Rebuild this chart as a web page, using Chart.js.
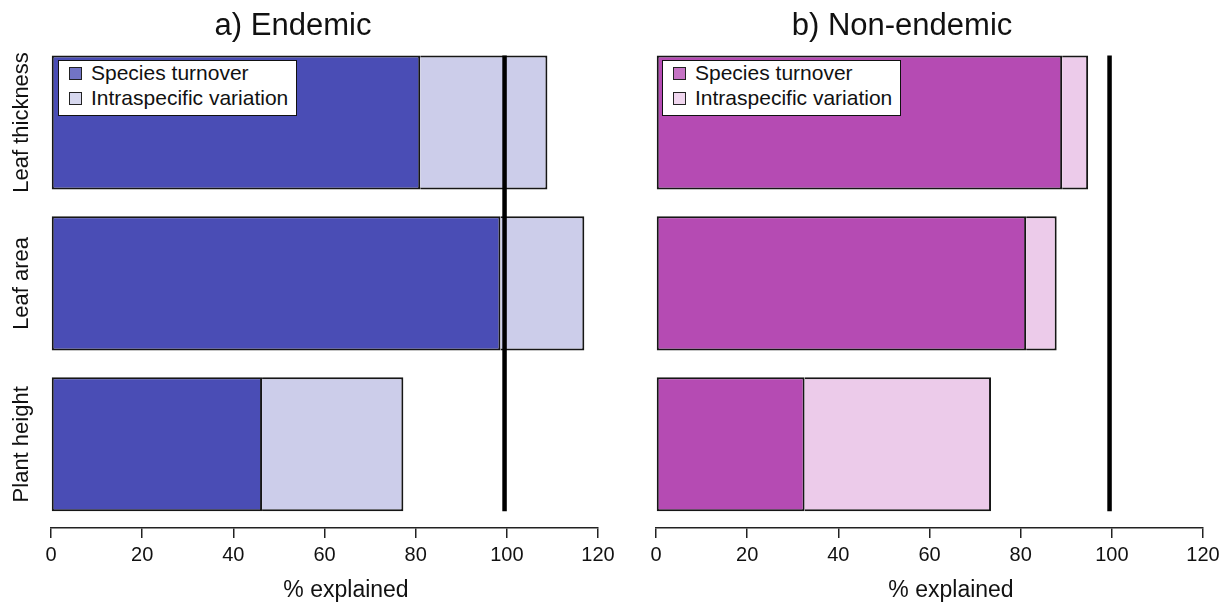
<!DOCTYPE html>
<html>
<head>
<meta charset="utf-8">
<script src="https://cdn.jsdelivr.net/npm/chart.js@4.4.1/dist/chart.umd.min.js"></script>
<style>
  html, body { margin: 0; padding: 0; background: #fff; overflow: hidden; }
  #frame { position: relative; width: 1230px; height: 608px; font-family: "Liberation Sans", Arial, sans-serif; color: #111; }
  .panel { position: absolute; top: 0; width: 615px; height: 608px; }
  .title { position: absolute; top: 8px; font-size: 31px; line-height: 34px; white-space: nowrap; transform: translateX(-50%); }
  .xlab { position: absolute; top: 576px; font-size: 23px; line-height: 26px; white-space: nowrap; transform: translateX(-50%); }
  .legend { position: absolute; top: 60px; background: #fff; border: 1.5px solid #111; padding: 0 8px 5px 0; font-size: 21px; line-height: 24.5px; white-space: nowrap; }
  .legend .row { padding-left: 10px; }
  .legend .sw { display: inline-block; width: 11px; height: 11px; border: 1.2px solid #222; margin-right: 9px; vertical-align: baseline; }
</style>
</head>
<body>
<div id="frame">
  <div class="panel" style="left:0"><canvas id="endemic"></canvas></div>
  <div class="panel" style="left:615px"><canvas id="nonendemic"></canvas></div>
  <div class="title" style="left:293px">a) Endemic</div>
  <div class="title" style="left:902px">b) Non-endemic</div>
  <div class="xlab" style="left:346px">% explained</div>
  <div class="xlab" style="left:951px">% explained</div>
  <div class="legend" id="leg-endemic" style="left:58px"></div>
  <div class="legend" id="leg-nonendemic" style="left:662px"></div>
</div>
<script>
// traits, top to bottom
const traits = ["Leaf thickness", "Leaf area", "Plant height"];
const seriesNames = ["Species turnover", "Intraspecific variation"];

// % of trait variation explained
const endemicTurnover = [81.0, 98.6, 46.3];
const endemicIntra = [27.9, 18.4, 31.0];
const nonEndemicTurnover = [89.1, 81.2, 32.6];
const nonEndemicIntra = [5.7, 6.7, 40.9];

// reference line (total variation)
const refLine = 99.5;
const xTicks = [0, 20, 40, 60, 80, 100, 120];

const blues = ["#4a4db5", "#cccdea"];
const pinks = ["#b54bb3", "#eccbea"];

Chart.defaults.font.family = '"Liberation Sans", Arial, sans-serif';
Chart.defaults.color = "#111";

// bar height as a share of each row (space = 0.2)
const BAR_SHARE = 1 / 1.2;

// rotated trait names at the left of the first panel
const traitNames = {
	id: "traitNames",
	afterDraw(chart) {
		const ctx = chart.ctx;
		const y = chart.scales.y;
		ctx.save();
		ctx.font = '22px "Liberation Sans", Arial, sans-serif';
		ctx.fillStyle = "#111";
		ctx.textAlign = "center";
		ctx.textBaseline = "alphabetic";
		traits.forEach((name, i) => {
			ctx.save();
			ctx.translate(28, y.getPixelForValue(i));
			ctx.rotate(-Math.PI / 2);
			ctx.fillText(name, 0, 0);
			ctx.restore();
		});
		ctx.restore();
	},
};

function rows(values) {
	return values.map((v, i) => ({ x: v, y: i }));
}

function makePanel(id, turnover, intra, colors, pad, extra) {
	const half = BAR_SHARE / 2;
	return new Chart(document.getElementById(id), {
		type: "bar",
		data: {
			datasets: [
				{
					type: "line",
					data: [
						{ x: refLine, y: -half },
						{ x: refLine, y: traits.length - 1 + half },
					],
					borderColor: "#000",
					borderWidth: 4.5,
					pointRadius: 0,
					order: 0,
				},
				{ label: seriesNames[0], data: rows(turnover), backgroundColor: colors[0], order: 1 },
				{
					label: seriesNames[1],
					data: rows(intra),
					backgroundColor: colors[1],
					// the turnover segment already draws the shared edge
					borderWidth: { top: 2, right: 2, bottom: 2, left: 0 },
					order: 1,
				},
			],
		},
		options: {
			indexAxis: "y",
			responsive: true,
			maintainAspectRatio: false,
			animation: false,
			layout: { padding: pad },
			datasets: {
				bar: {
					borderColor: "#161616",
					borderWidth: 2,
					borderSkipped: false,
					categoryPercentage: BAR_SHARE,
					barPercentage: 1,
				},
			},
			plugins: {
				legend: { display: false },
				tooltip: { enabled: false },
			},
			scales: {
				x: {
					stacked: true,
					min: 0,
					max: 120,
					afterBuildTicks: (s) => { s.ticks = xTicks.map((v) => ({ value: v })); },
					afterFit: (s) => {
						s.height = 80;
						s.paddingLeft = 0;
						s.paddingRight = 0;
					},
					grid: { drawOnChartArea: false, drawTicks: true, tickLength: 10, color: "#222", lineWidth: 1.5 },
					border: { color: "#222", width: 1.5 },
					ticks: { font: { size: 20 }, padding: 5, maxRotation: 0, color: "#111" },
				},
				y: {
					type: "linear",
					display: false,
					offset: false,
					stacked: true,
					reverse: true,
					min: -0.5,
					max: 2.52,
					afterBuildTicks: (s) => { s.ticks = traits.map((_, i) => ({ value: i })); },
				},
			},
		},
		plugins: extra,
	});
}

function buildLegend(elId, chart) {
	const box = document.getElementById(elId);
	chart.data.datasets.filter((d) => d.label).forEach((d) => {
		const row = document.createElement("div");
		row.className = "row";
		const sw = document.createElement("span");
		sw.className = "sw";
		sw.style.background = "linear-gradient(rgba(255,255,255,.22), rgba(255,255,255,.22)), " + d.backgroundColor;
		row.appendChild(sw);
		row.appendChild(document.createTextNode(d.label));
		box.appendChild(row);
	});
}

const endemicChart = makePanel("endemic", endemicTurnover, endemicIntra, blues,
	{ top: 42, left: 51, right: 17, bottom: 0 }, [traitNames]);
const nonEndemicChart = makePanel("nonendemic", nonEndemicTurnover, nonEndemicIntra, pinks,
	{ top: 42, left: 41, right: 27, bottom: 0 }, []);

buildLegend("leg-endemic", endemicChart);
buildLegend("leg-nonendemic", nonEndemicChart);
</script>
</body>
</html>
